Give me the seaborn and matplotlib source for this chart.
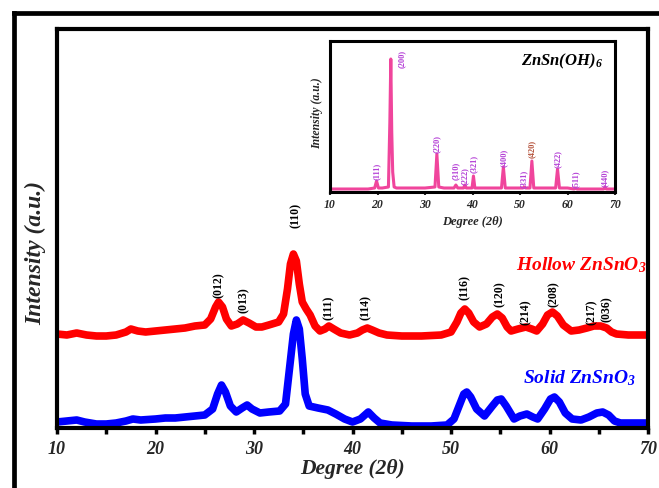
import numpy as np
import pandas as pd
import matplotlib
matplotlib.use("Agg")
import matplotlib.pyplot as plt
from matplotlib.lines import Line2D
import seaborn as sns

# ---- XRD patterns (2θ in degrees, intensity in arbitrary units) ----
hollow_2theta = [10, 11, 12, 13, 14, 15, 16, 17, 17.5, 18.2, 19, 20, 21, 22, 23, 24, 25,
                 25.6, 26.1, 26.4, 26.8, 27.2, 27.7, 28.3, 28.9, 29.5, 30.2, 30.8, 31.5,
                 32.5, 33.0, 33.4, 33.7, 34.0, 34.3, 34.6, 34.9, 35.3, 35.7, 36.2, 36.7,
                 37.2, 37.6, 38.1, 38.8, 39.7, 40.5, 41.0, 41.5, 42.0, 42.7, 43.5, 45, 47,
                 49, 50, 50.6, 51.0, 51.4, 51.8, 52.3, 52.9, 53.6, 54.2, 54.7, 55.2, 55.7,
                 56.1, 56.8, 57.6, 58.2, 58.7, 59.3, 59.8, 60.3, 60.8, 61.4, 62.2, 63,
                 63.8, 64.5, 65.2, 65.8, 66.3, 66.8, 68, 70]
hollow_int = [94, 93, 95, 93, 92, 92, 93, 96, 99, 97, 96, 97, 98, 99, 100, 102, 103,
              109, 121, 126, 121, 109, 102, 104, 108, 105, 101, 101, 103,
              106, 114, 139, 164, 174, 167, 144, 126, 119, 113, 102, 97,
              99, 102, 99, 95, 93, 95, 98, 100, 98, 95, 93, 92, 92,
              93, 96, 106, 115, 119, 115, 106, 101, 104, 111, 114, 110, 101,
              97, 99, 101, 99, 97, 104, 113, 116, 112, 103, 97, 98,
              100, 102, 102, 100, 96, 94, 93, 93]

solid_2theta = [10, 11, 12, 12.8, 14, 15, 16, 17, 17.7, 18.5, 20, 21, 22, 23, 24, 25,
                25.8, 26.3, 26.7, 27.1, 27.6, 28.2, 28.8, 29.3, 29.8, 30.6, 31.5, 32.6,
                33.2, 33.6, 34.0, 34.3, 34.6, 34.9, 35.2, 35.6, 36.5, 37.5, 38.3, 39.2,
                40.0, 40.8, 41.6, 42.2, 42.8, 44, 46, 48, 49.6, 50.3, 50.9, 51.3, 51.6,
                52.0, 52.6, 53.4, 54.2, 54.7, 55.1, 55.6, 56.4, 57.0, 57.7, 58.3, 58.8,
                59.5, 60.1, 60.5, 61.0, 61.6, 62.3, 63.2, 64.0, 64.8, 65.4, 66.0, 66.6,
                67.2, 68.5, 70]
solid_int = [6, 7, 8, 6, 4, 4, 5, 7, 9, 8, 9, 10, 10, 11, 12, 13,
             19, 34, 43, 36, 22, 16, 20, 23, 19, 15, 16, 17,
             24, 59, 94, 108, 99, 69, 34, 22, 20, 18, 14, 9,
             6, 9, 16, 10, 5, 3, 2, 2, 3, 9, 24, 34, 36,
             31, 19, 12, 22, 28, 29, 22, 9, 12, 14, 11, 9,
             19, 29, 31, 26, 15, 9, 8, 11, 15, 16, 13, 7,
             5, 5, 5]

# Miller indices of the ZnSnO3 reflections and where their tags sit
hkl_labels = ["(012)", "(013)", "(110)", "(111)", "(114)", "(116)", "(120)",
              "(214)", "(208)", "(217)", "(036)"]
hkl_2theta = [26.4, 29.0, 34.2, 37.6, 41.4, 51.4, 55.0, 57.6, 60.4, 64.3, 65.8]
hkl_y = [131, 116, 201, 109, 109, 129, 122, 104, 122, 104, 107]

# ZnSn(OH)6 precursor pattern (inset)
precursor_2theta = [10, 12, 14, 16, 18, 19.4, 19.8, 20.2, 21, 22.3, 22.6, 22.8, 23.0,
                    23.2, 23.5, 24, 26, 28, 30, 32.1, 32.5, 32.9, 34, 36.1, 36.5, 36.9,
                    38.1, 38.4, 38.7, 39.9, 40.2, 40.5, 42, 44, 46.1, 46.5, 46.9, 48,
                    50.6, 50.9, 51.2, 52.1, 52.5, 52.9, 54, 56, 57.5, 57.9, 58.3, 60,
                    61.4, 61.7, 62.0, 64, 66, 67.6, 67.9, 68.2, 70]
precursor_int = [3, 3, 3, 3, 3, 4, 11, 4, 4, 5, 70, 133, 60,
                 20, 5, 4, 4, 4, 4, 5, 38, 5, 4, 4, 7, 4,
                 4, 7, 4, 4, 16, 4, 4, 4, 4, 25, 4, 4,
                 4, 5, 4, 4, 31, 4, 4, 4, 4, 23, 4, 4,
                 3, 4, 3, 3, 3, 3, 5, 3, 3]
precursor_labels = ["(111)", "(200)", "(220)", "(310)", "(222)", "(321)", "(400)",
                    "(331)", "(420)", "(422)", "(511)", "(440)"]
precursor_lab_2theta = [19.8, 25.1, 32.5, 36.4, 38.4, 40.2, 46.5, 50.7, 52.5, 57.9, 61.7, 67.8]
precursor_lab_y = [13, 125, 40, 13, 8, 20, 26, 5, 35, 25, 5, 6]
precursor_lab_colors = ["#b43fd6"] * 8 + ["#b5533c"] + ["#b43fd6"] * 3

xticks = [10, 20, 30, 40, 50, 60, 70]

# ---- style ----
sns.set_theme(style="white")
plt.rcParams["font.family"] = ["Liberation Serif", "DejaVu Serif"]
plt.rcParams["font.weight"] = "bold"
plt.rcParams["font.style"] = "italic"
plt.rcParams["mathtext.fontset"] = "custom"
plt.rcParams["mathtext.rm"] = "Liberation Serif:italic:bold"
plt.rcParams["mathtext.it"] = "Liberation Serif:italic:bold"
plt.rcParams["mathtext.bf"] = "Liberation Serif:italic:bold"

W, H = 659, 489
fig = plt.figure(figsize=(W / 100, H / 100), dpi=100)
fig.patch.set_facecolor("white")

# outer frame (top and left edges)
fig.add_artist(Line2D([14 / W, 14 / W], [-0.05, 1 - 14 / H], color="black", lw=3.4,
                      transform=fig.transFigure, solid_capstyle="projecting"))
fig.add_artist(Line2D([14 / W, 1.05], [1 - 14 / H, 1 - 14 / H], color="black", lw=3.4,
                      transform=fig.transFigure, solid_capstyle="projecting"))

# ---- main axes ----
ax = fig.add_axes([57 / W, 1 - 429 / H, (648 - 57) / W, (429 - 30) / H])
df_h = pd.DataFrame({"2theta": hollow_2theta, "I": hollow_int})
df_s = pd.DataFrame({"2theta": solid_2theta, "I": solid_int})
sns.lineplot(data=df_h, x="2theta", y="I", ax=ax, color="#ff0000", lw=5.5,
             solid_joinstyle="round", solid_capstyle="round")
sns.lineplot(data=df_s, x="2theta", y="I", ax=ax, color="#0000ff", lw=5.5,
             solid_joinstyle="round", solid_capstyle="round")
ax.set_xlim(10, 70)
ax.set_ylim(0, 399)
ax.set_yticks([])
ax.set_xticks(xticks)
ax.set_xticks([15, 25, 35, 45, 55, 65], minor=True)
ax.tick_params(axis="x", which="both", direction="out", length=4, width=2.5,
               color="black", bottom=True, labelsize=13, pad=5)
for lab in ax.get_xticklabels():
    lab.set_fontweight("bold")
    lab.set_fontstyle("italic")
for s in ax.spines.values():
    s.set_linewidth(3)
    s.set_color("black")

ax.set_xlabel("Degree (2θ)", fontsize=15.5, fontweight="bold", fontstyle="italic")
ax.xaxis.set_label_coords(0.5, (429 - 469) / 399)
ax.xaxis.label.set_verticalalignment("center")
ax.set_ylabel("Intensity (a.u.)", fontsize=17, fontweight="bold", fontstyle="italic")
ax.yaxis.set_label_coords((36 - 57) / 591, 0.44)
ax.yaxis.label.set_verticalalignment("center")

for lab, x, y in zip(hkl_labels, hkl_2theta, hkl_y):
    ax.text(x, y, lab, rotation=90, ha="center", va="bottom", fontsize=8.5,
            fontweight="bold", fontstyle="normal", color="black")

ax.text(69.9, 164, "Hollow ZnSnO$_3$", ha="right", va="center", fontsize=14,
        color="#ff0000", fontweight="bold", fontstyle="italic")
ax.text(68.8, 51, "Solid ZnSnO$_3$", ha="right", va="center", fontsize=14,
        color="#0000ff", fontweight="bold", fontstyle="italic")

# ---- inset: precursor ----
ins = fig.add_axes([330 / W, 1 - 193 / H, (615 - 330) / W, (193 - 42) / H])
df_p = pd.DataFrame({"2theta": precursor_2theta, "I": precursor_int})
sns.lineplot(data=df_p, x="2theta", y="I", ax=ins, color="#f0459c", lw=2.2)
ins.set_xlim(10, 70)
ins.set_ylim(0, 151)
ins.set_yticks([])
ins.set_xticks(xticks)
ins.tick_params(axis="x", direction="out", length=2, width=1.5, bottom=True,
                labelsize=8.5, pad=2)
for lab in ins.get_xticklabels():
    lab.set_fontweight("bold")
    lab.set_fontstyle("italic")
for s in ins.spines.values():
    s.set_linewidth(2.2)
    s.set_color("black")
ins.set_xlabel("Degree (2θ)", fontsize=9, fontweight="bold", fontstyle="italic")
ins.xaxis.set_label_coords(0.5, (193 - 222) / 151)
ins.xaxis.label.set_verticalalignment("center")
ins.set_ylabel("Intensity (a.u.)", fontsize=8.5, fontweight="bold", fontstyle="italic")
ins.yaxis.set_label_coords((317 - 330) / 285, 0.53)
ins.yaxis.label.set_verticalalignment("center")

for lab, x, y, c in zip(precursor_labels, precursor_lab_2theta, precursor_lab_y,
                        precursor_lab_colors):
    ins.text(x, y, lab, rotation=90, ha="center", va="bottom", fontsize=6,
             fontweight="bold", fontstyle="normal", color=c)

ins.text(0.958, 0.874, "ZnSn(OH)$_6$", transform=ins.transAxes, ha="right",
         va="center", fontsize=12, fontweight="bold", fontstyle="italic", color="black")

fig.savefig("out.png", dpi=100, facecolor="white")
